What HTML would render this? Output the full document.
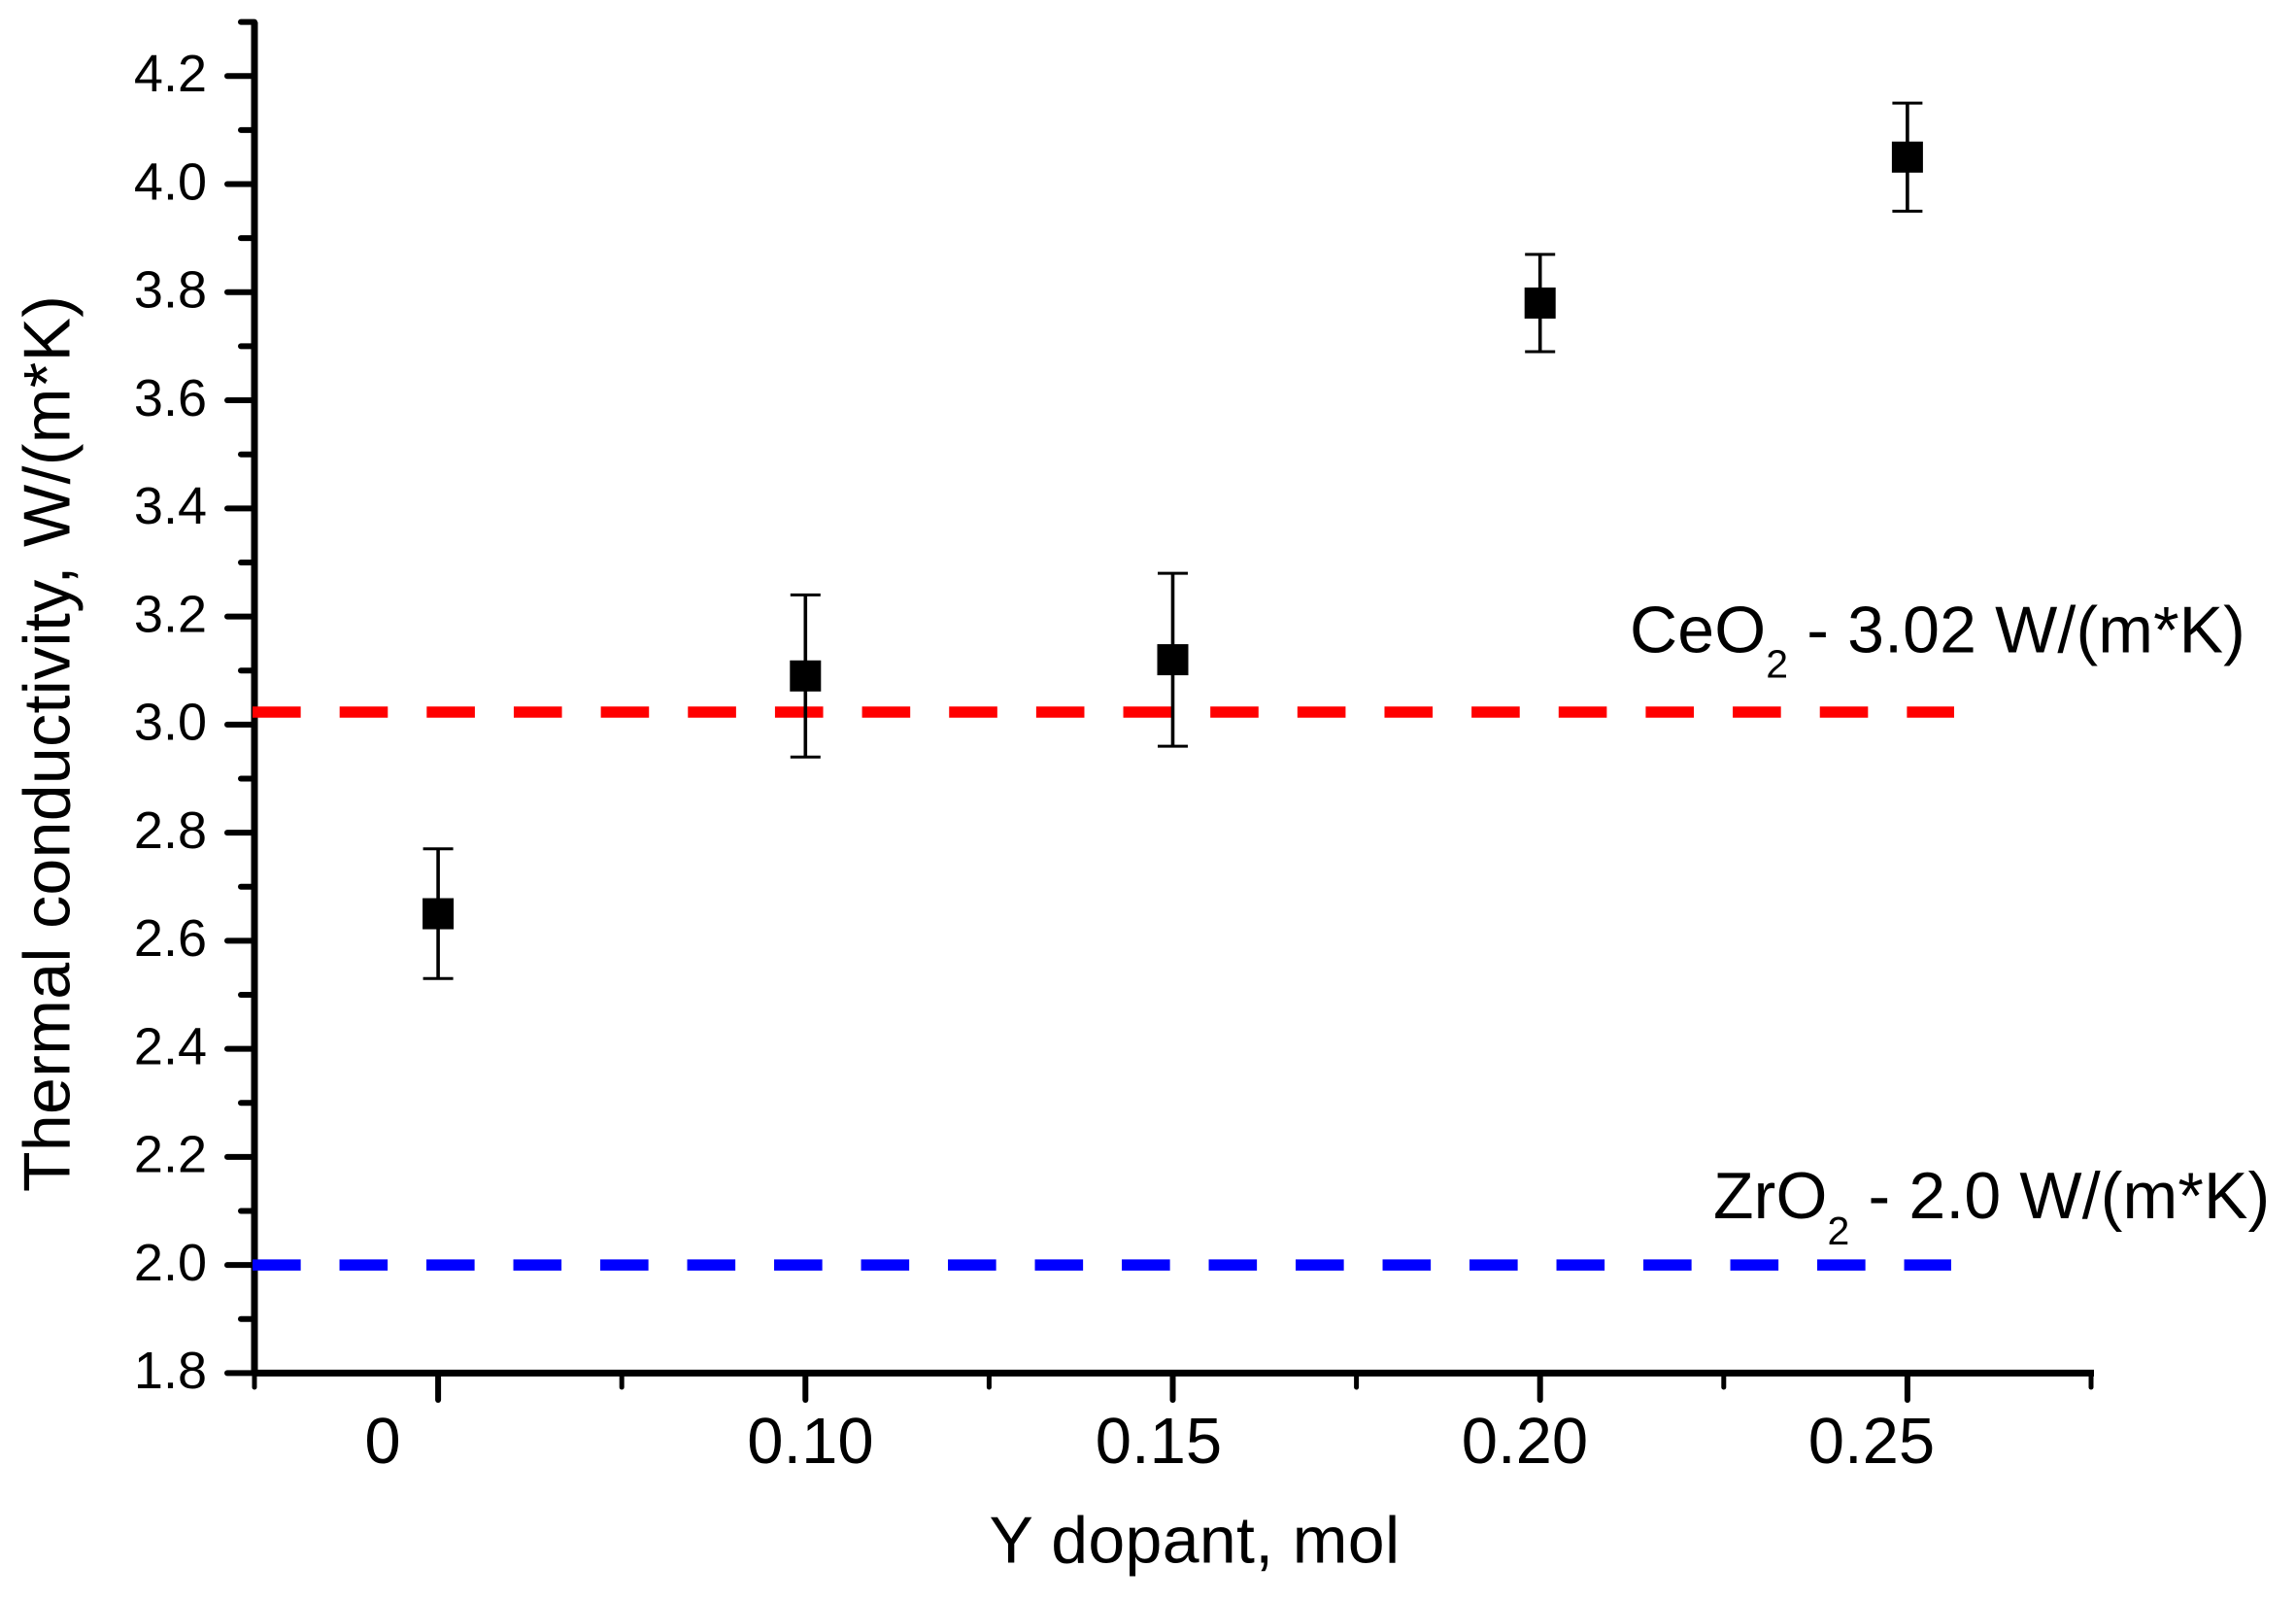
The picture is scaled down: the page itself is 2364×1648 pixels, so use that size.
<!DOCTYPE html>
<html lang="en">
<head>
<meta charset="utf-8">
<title>Thermal conductivity vs Y dopant</title>
<style>
  html, body { margin: 0; padding: 0; background: #fff; }
  body { width: 2364px; height: 1648px; overflow: hidden; }
  svg { display: block; }
  text { font-family: "Liberation Sans", Arial, sans-serif; fill: #000; }
  .tick-label { font-size: 54px; }
  .x-label { font-size: 67px; text-anchor: middle; }
  .title { font-size: 68px; letter-spacing: 0.35px; }
  .note { font-size: 68px; letter-spacing: 0.15px; }
  .sub { font-size: 41px; }
</style>
</head>
<body>
<svg id="chart" xmlns="http://www.w3.org/2000/svg" width="2364" height="1648" viewBox="0 0 2364 1648">
  <rect x="0" y="0" width="2364" height="1648" fill="#fff"/>
  <g id="axes"></g>
  <g id="ref-lines"></g>
  <g id="points"></g>

  <text class="x-label" x="394" y="1506">0</text>
  <text class="x-label" x="834.5" y="1506">0.10</text>
  <text class="x-label" x="1193" y="1506">0.15</text>
  <text class="x-label" x="1570" y="1506">0.20</text>
  <text class="x-label" x="1927" y="1506">0.25</text>

  <text class="title" x="1018.5" y="1608.5">Y dopant, mol</text>
  <text class="title" transform="translate(71.7 1227) rotate(-90)" x="0" y="0">Thermal conductivity, W/(m*K)</text>

  <text class="note" x="1678" y="671.7">CeO<tspan class="sub" dy="26">2</tspan><tspan dy="-26"> - 3.02 W/(m*K)</tspan></text>
  <text class="note" x="1764" y="1253.8">ZrO<tspan class="sub" dy="27">2</tspan><tspan dy="-27"> - 2.0 W/(m*K)</tspan></text>
</svg>

<script>
const dopantPositions = [0.05, 0.10, 0.15, 0.20, 0.25];
const conductivity = [2.65, 3.09, 3.12, 3.78, 4.05];
const errorAmounts = [0.12, 0.15, 0.16, 0.09, 0.10];
const ceo2Reference = [3.023];
const zro2Reference = [2.0];
const ceo2Extent = [0.02474, 0.25636];
const zro2Extent = [0.02474, 0.25596];
const yMajorValues = [1.8, 2.0, 2.2, 2.4, 2.6, 2.8, 3.0, 3.2, 3.4, 3.6, 3.8, 4.0, 4.2];
const yTickLabels = ["1.8", "2.0", "2.2", "2.4", "2.6", "2.8", "3.0", "3.2", "3.4", "3.6", "3.8", "4.0", "4.2"];
const yMinorValues = [1.9, 2.1, 2.3, 2.5, 2.7, 2.9, 3.1, 3.3, 3.5, 3.7, 3.9, 4.1, 4.3];
const xMajorValues = [0.05, 0.10, 0.15, 0.20, 0.25];
const xMinorValues = [0.025, 0.075, 0.125, 0.175, 0.225, 0.275];

const NS = "http://www.w3.org/2000/svg";
const xScale = function (v) { return 262 + (v - 0.025) * 7564; };
const yScale = function (v) { return 1413.4 - (v - 1.8) * 556.3; };

function makeLine(parent, x1, y1, x2, y2, color, width, cap) {
  const el = document.createElementNS(NS, "line");
  el.setAttribute("x1", x1);
  el.setAttribute("y1", y1);
  el.setAttribute("x2", x2);
  el.setAttribute("y2", y2);
  el.setAttribute("stroke", color);
  el.setAttribute("stroke-width", width);
  el.setAttribute("stroke-linecap", cap);
  parent.appendChild(el);
  return el;
}

const axes = document.getElementById("axes");
const refGroup = document.getElementById("ref-lines");
const pointGroup = document.getElementById("points");
const AX = xScale(0.025);
const AY = yScale(1.8);

const yAxisLine = makeLine(axes, AX, yScale(4.3), AX, AY, "#000", 7, "butt");



const xAxisLine = makeLine(axes, AX, AY, xScale(0.275) + 3, AY, "#000", 7, "butt");



yMajorValues.forEach(function (v, i) {
  const tick = makeLine(axes, 234, yScale(v), AX, yScale(v), "#000", 6, "round");
  
  
  const label = document.createElementNS(NS, "text");
  label.setAttribute("class", "tick-label");
  label.setAttribute("x", 213);
  label.setAttribute("y", yScale(v) + 15.8);
  label.setAttribute("text-anchor", "end");
  label.textContent = yTickLabels[i];
  
  
  axes.appendChild(label);
});

yMinorValues.forEach(function (v) {
  const tick = makeLine(axes, 248, yScale(v), AX, yScale(v), "#000", 6, "round");
  
  
});

xMajorValues.forEach(function (v) {
  const tick = makeLine(axes, xScale(v), AY, xScale(v), 1441, "#000", 6, "round");
  
  
});

xMinorValues.forEach(function (v) {
  const tick = makeLine(axes, xScale(v), AY, xScale(v), 1428, "#000", 5, "round");
  
  
});

const ceo2Line = makeLine(refGroup, xScale(ceo2Extent[0]), yScale(ceo2Reference[0]), xScale(ceo2Extent[1]), yScale(ceo2Reference[0]), "#ff0000", 11.5, "butt");
ceo2Line.setAttribute("stroke-dasharray", "49.6 40.05");



const zro2Line = makeLine(refGroup, xScale(zro2Extent[0]), yScale(zro2Reference[0]), xScale(zro2Extent[1]), yScale(zro2Reference[0]), "#0000ff", 11.5, "butt");
zro2Line.setAttribute("stroke-dasharray", "49.6 39.9");



conductivity.forEach(function (value, i) {
  const px = xScale(dopantPositions[i]);
  const top = yScale(value + errorAmounts[i]);
  const bottom = yScale(value - errorAmounts[i]);

  const stem = makeLine(pointGroup, px, top, px, bottom, "#000", 3.6, "butt");
  
  

  const capTop = makeLine(pointGroup, px - 15.5, top, px + 15.5, top, "#000", 3, "butt");
  
  

  const capBottom = makeLine(pointGroup, px - 15.5, bottom, px + 15.5, bottom, "#000", 3, "butt");
  
  

  const marker = document.createElementNS(NS, "rect");
  marker.setAttribute("x", px - 16);
  marker.setAttribute("y", yScale(value) - 16);
  marker.setAttribute("width", 32);
  marker.setAttribute("height", 32);
  marker.setAttribute("fill", "#000");
  
  
  pointGroup.appendChild(marker);
});
</script>
</body>
</html>
